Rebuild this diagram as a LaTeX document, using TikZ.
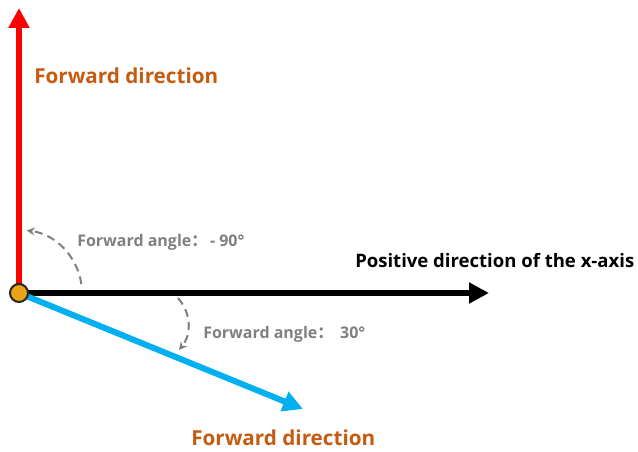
\documentclass[tikz,border=0pt]{standalone}
\usepackage{fontspec}
\setmainfont{Open Sans}
\newfontfamily\cjk{Noto Sans CJK SC}
\usetikzlibrary{arrows.meta}
\definecolor{fwdbrown}{HTML}{C55A11}
\definecolor{fwdblue}{HTML}{00B0F0}
\definecolor{anggray}{HTML}{7F7F7F}
\definecolor{pivotfill}{HTML}{E8A317}
\definecolor{pivotline}{HTML}{262626}
\begin{document}
\begin{tikzpicture}[x=0.75pt,y=-0.75pt,
  axisarrow/.style={line width=4.5pt,-{Triangle[length=15pt,width=15pt]}},
  fwdlabel/.style={anchor=west,inner sep=0pt,text=fwdbrown,font=\bfseries\fontsize{15.5}{18}\selectfont},
  anglabel/.style={anchor=west,inner sep=0pt,text=anggray,font=\bfseries\fontsize{12}{14}\selectfont},
  angarc/.style={draw=anggray,line width=1.5pt,dash pattern=on 6pt off 4pt,-{Stealth[length=6pt,width=6pt]}},
  pivot/.style={circle,fill=pivotfill,draw=pivotline,line width=1.5pt,minimum size=13.5pt,inner sep=0pt}]
\useasboundingbox (0,0) rectangle (638,452);
% origin and arrow ends
\coordinate (O) at (19,293);
\coordinate (ytip) at (19,8);
\coordinate (xtip) at (489,293);
\coordinate (ftip) at (303,409);
% arrows
\draw[axisarrow,red] (O) -- (ytip);
\draw[axisarrow,black] (O) -- (xtip);
\draw[axisarrow,fwdblue] (O) -- (ftip);
\node[pivot] (origin) at (O) {};
% angle arcs
\draw[angarc] (O) ++(-8:63) arc[start angle=-8,end angle=-83,radius=63];
\coordinate (arcA) at (178,298);
\coordinate (arcB) at (179,350);
\draw[angarc] (arcA) to[bend left=40] (arcB);
% labels
\node[fwdlabel] (fwdup) at (34,76) {Forward direction};
\node[fwdlabel] (fwddown) at (191,438) {Forward direction};
\node[anchor=west,inner sep=0pt,font=\bfseries\fontsize{13.9}{16}\selectfont] (xlabel) at (355,260) {Positive direction of the x-axis};
\node[anglabel] (angup) at (77,242) {Forward angle{\cjk ：}\hspace{2pt}- 90°};
\node[anglabel] (angdown) at (203,334) {Forward angle{\cjk ：}\hspace{2pt} 30°};
\end{tikzpicture}
\end{document}
